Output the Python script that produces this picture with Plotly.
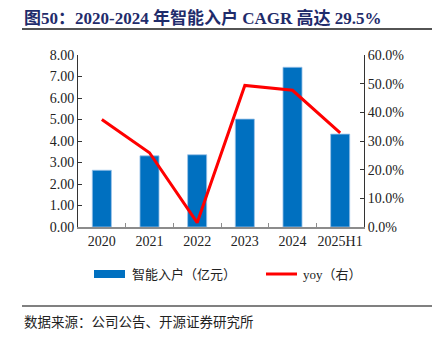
import plotly.graph_objects as go

categories = ["2020", "2021", "2022", "2023", "2024", "2025H1"]
revenue = [2.64, 3.31, 3.36, 5.02, 7.43, 4.32]
yoy = [0.375, 0.259, 0.015, 0.494, 0.477, 0.328]
left_ticks = [0, 1, 2, 3, 4, 5, 6, 7, 8]
right_ticks = [0, 0.1, 0.2, 0.3, 0.4, 0.5, 0.6]

FONT = "Liberation Serif, Times New Roman, Noto Sans CJK SC, serif"
W, H = 438, 340
L, R, T, B = 78, 74, 55, 113

fig = go.Figure()
fig.add_trace(go.Bar(
    x=categories, y=revenue, name="智能入户（亿元）",
    marker=dict(color="#0070C0", line=dict(color="#9CC3E8", width=0.8)),
    width=0.4, showlegend=False,
))
fig.add_trace(go.Scatter(
    x=categories, y=yoy, name="yoy（右）", yaxis="y2", mode="lines",
    line=dict(color="#FF0000", width=3), showlegend=False,
))

def px_x(x):
    return (x - L) / (W - L - R)

def px_y(y):
    return (H - B - y) / (H - T - B)

shapes = [
    # title underline
    dict(type="line", xref="paper", yref="paper", x0=px_x(22), x1=px_x(432),
         y0=px_y(29), y1=px_y(29), line=dict(color="#1a1a1a", width=1.5)),
    # bottom rule
    dict(type="line", xref="paper", yref="paper", x0=px_x(22), x1=px_x(432),
         y0=px_y(306), y1=px_y(306), line=dict(color="#808080", width=2)),
    # legend swatches
    dict(type="rect", xref="paper", yref="paper", x0=px_x(94), x1=px_x(125),
         y0=px_y(278), y1=px_y(270), fillcolor="#0070C0", line=dict(width=0)),
    dict(type="line", xref="paper", yref="paper", x0=px_x(266), x1=px_x(297),
         y0=px_y(274), y1=px_y(274), line=dict(color="#FF0000", width=3)),
]

annotations = [
    dict(text="<b>图50：2020-2024 年智能入户 CAGR 高达 29.5%</b>", xref="paper", yref="paper",
         x=px_x(22), y=px_y(18), xanchor="left", yanchor="middle", showarrow=False,
         font=dict(family=FONT, size=17, color="#1F2C6B")),
    dict(text="智能入户（亿元）", xref="paper", yref="paper",
         x=px_x(130), y=px_y(274), xanchor="left", yanchor="middle", showarrow=False,
         font=dict(family=FONT, size=13, color="#222")),
    dict(text="yoy（右）", xref="paper", yref="paper",
         x=px_x(301), y=px_y(274), xanchor="left", yanchor="middle", showarrow=False,
         font=dict(family=FONT, size=13, color="#222")),
    dict(text="数据来源：公司公告、开源证券研究所", xref="paper", yref="paper",
         x=px_x(22), y=px_y(322), xanchor="left", yanchor="middle", showarrow=False,
         font=dict(family=FONT, size=13.5, color="#222")),
]

fig.update_layout(
    width=W, height=H,
    margin=dict(l=L, r=R, t=T, b=B),
    paper_bgcolor="white", plot_bgcolor="white",
    font=dict(family=FONT, size=14, color="#222"),
    showlegend=False,
    shapes=shapes, annotations=annotations,
    xaxis=dict(
        type="category", showline=True, linecolor="#8c8c8c", linewidth=1.5,
        ticks="inside", tickson="boundaries", ticklen=4, tickcolor="#8c8c8c",
        showgrid=False, tickfont=dict(size=14), tickangle=0,
    ),
    yaxis=dict(
        range=[0, 8], tickvals=left_ticks, tickformat=".2f",
        showline=True, linecolor="#333", linewidth=1, ticks="inside", ticklen=4,
        tickcolor="#333", showgrid=False, zeroline=False, tickfont=dict(size=14),
    ),
    yaxis2=dict(
        range=[0, 0.6], tickvals=right_ticks, tickformat=".1%", overlaying="y",
        side="right", showline=True, linecolor="#333", linewidth=1, ticks="inside",
        ticklen=4, tickcolor="#333", showgrid=False, zeroline=False,
        tickfont=dict(size=14),
    ),
)

fig.write_html("out.html")
